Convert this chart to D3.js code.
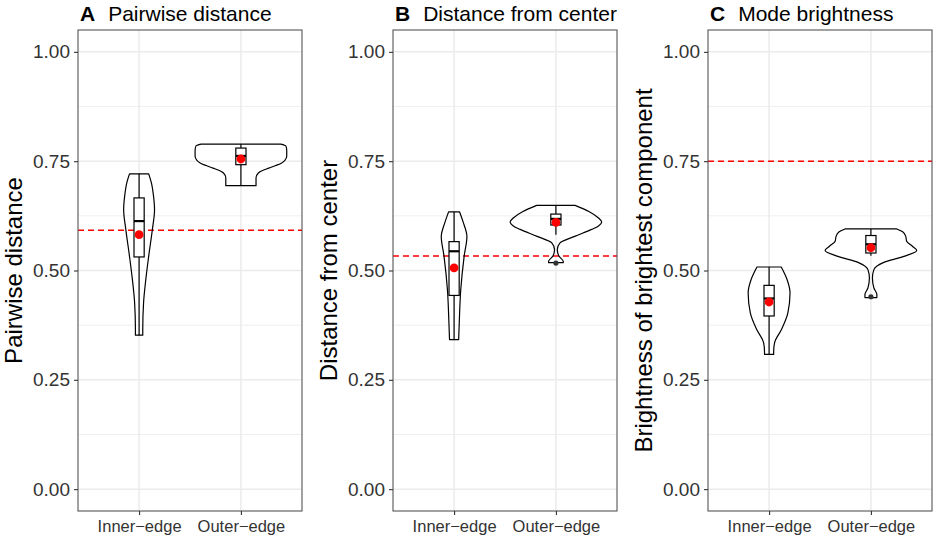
<!DOCTYPE html>
<html>
<head>
<meta charset="utf-8">
<script src="https://cdn.jsdelivr.net/npm/d3@7"></script>
<style>
  body { margin: 0; background: #fff; }
  text { font-family: "Liberation Sans", Arial, sans-serif; }
</style>
</head>
<body>
<div id="chart"></div>
<script>
const categories = ["Inner\u2212edge", "Outer\u2212edge"]
const panelTags = ["A", "B", "C"]
const panelTitles = ["Pairwise distance", "Distance from center", "Mode brightness"]
const yTitles = ["Pairwise distance", "Distance from center", "Brightness of brightest component"]
const yTicks = [0, 0.25, 0.5, 0.75, 1]
const yMinor = [0.125, 0.375, 0.625, 0.875]
const refLines = [0.592, 0.533, 0.75]

// violin outlines: [value, relative density]
const violinA = [
  [[0.721, 0.21], [0.70, 0.27], [0.67, 0.315], [0.639, 0.337], [0.594, 0.29], [0.533, 0.21],
   [0.479, 0.146], [0.427, 0.098], [0.365, 0.08], [0.352, 0.08]],
  [[0.789, 0.87], [0.785, 0.98], [0.775, 1.0], [0.761, 1.0], [0.752, 0.96], [0.746, 0.89],
   [0.740, 0.76], [0.734, 0.61], [0.728, 0.46], [0.723, 0.38], [0.712, 0.33], [0.694, 0.33]]
]
const violinB = [
  [[0.634, 0.12], [0.61, 0.2], [0.578, 0.28], [0.533, 0.22], [0.457, 0.146], [0.381, 0.113],
   [0.342, 0.1]],
  [[0.649, 0.42], [0.635, 0.72], [0.62, 0.93], [0.611, 1.0], [0.602, 0.93], [0.594, 0.78],
   [0.578, 0.41], [0.563, 0.09], [0.548, 0.03], [0.533, 0.065], [0.521, 0.16], [0.518, 0.16]]
]
const violinC = [
  [[0.508, 0.265], [0.48, 0.39], [0.449, 0.457], [0.403, 0.41], [0.365, 0.27], [0.335, 0.12],
   [0.315, 0.1], [0.308, 0.1]],
  [[0.595, 0.565], [0.588, 0.7], [0.578, 0.76], [0.567, 0.78], [0.555, 0.91], [0.546, 1.0],
   [0.533, 0.74], [0.518, 0.27], [0.502, 0.065], [0.483, 0.033], [0.460, 0.065], [0.445, 0.13],
   [0.438, 0.13]]
]

// box stats: [low, q1, median, q3, high, mean]
const boxA = [[0.352, 0.531, 0.613, 0.666, 0.721, 0.582], [0.694, 0.742, 0.762, 0.780, 0.789, 0.755]]
const boxB = [[0.342, 0.443, 0.544, 0.566, 0.634, 0.506], [0.582, 0.604, 0.618, 0.629, 0.649, 0.610]]
const boxC = [[0.308, 0.396, 0.436, 0.466, 0.508, 0.428], [0.534, 0.540, 0.560, 0.580, 0.595, 0.552]]
const outliers = [[[], []], [[], [0.517]], [[], [0.440]]]

const violins = [violinA, violinB, violinC]
const boxes = [boxA, boxB, boxC]

const width = 935, height = 537
const panelLeft = [78, 393, 708], panelW = 224
const plotTop = 30, plotBottom = 511

const svg = d3.select("#chart").append("svg")
  .attr("width", width).attr("height", height)

const y = d3.scaleLinear().domain([-0.05, 1.05]).range([plotBottom, plotTop])

panelTags.forEach((tag, p) => {
  const x0 = panelLeft[p]
  // discrete x: categories at 1, 2 with 0.6 expansion
  const x = d3.scaleLinear().domain([0.4, 2.6]).range([x0, x0 + panelW])
  const unit = x(1) - x(0)
  const g = svg.append("g")

  // grid
  g.selectAll(".minor").data(yMinor).join("line")
    .attr("x1", x0).attr("x2", x0 + panelW)
    .attr("y1", d => y(d)).attr("y2", d => y(d))
    .attr("stroke", "#ebebeb").attr("stroke-width", 0.8)
  g.selectAll(".major").data(yTicks).join("line")
    .attr("x1", x0).attr("x2", x0 + panelW)
    .attr("y1", d => y(d)).attr("y2", d => y(d))
    .attr("stroke", "#ebebeb").attr("stroke-width", 1.5)
  g.selectAll(".xg").data(categories).join("line")
    .attr("x1", (d, i) => x(i + 1)).attr("x2", (d, i) => x(i + 1))
    .attr("y1", plotTop).attr("y2", plotBottom)
    .attr("stroke", "#ebebeb").attr("stroke-width", 1.5)

  // reference line
  g.append("line")
    .attr("x1", x0).attr("x2", x0 + panelW)
    .attr("y1", y(refLines[p])).attr("y2", y(refLines[p]))
    .attr("stroke", "#ff0000").attr("stroke-width", 1.5)
    .attr("stroke-dasharray", "6,4")

  // violins
  violins[p].forEach((pts, i) => {
    const cx = x(i + 1)
    const half = 0.45 * unit
    const area = d3.area()
      .curve(d3.curveMonotoneY)
      .y(d => y(d[0]))
      .x0(d => cx - d[1] * half)
      .x1(d => cx + d[1] * half)
    const pts2 = pts.slice().sort((a, b) => a[0] - b[0])
    g.append("path")
      .attr("d", area(pts2))
      .attr("fill", "none")
      .attr("stroke", "#000").attr("stroke-width", 1.2)
      .attr("stroke-linejoin", "round")
  })

  // boxplots
  boxes[p].forEach((b, i) => {
    const cx = x(i + 1)
    const bw = 0.05 * unit
    const [lo, q1, med, q3, hi, mean] = b
    g.append("line").attr("x1", cx).attr("x2", cx)
      .attr("y1", y(hi)).attr("y2", y(q3)).attr("stroke", "#000").attr("stroke-width", 1.2)
    g.append("line").attr("x1", cx).attr("x2", cx)
      .attr("y1", y(q1)).attr("y2", y(lo)).attr("stroke", "#000").attr("stroke-width", 1.2)
    g.append("rect")
      .attr("x", cx - bw).attr("width", 2 * bw)
      .attr("y", y(q3)).attr("height", y(q1) - y(q3))
      .attr("fill", "#fff").attr("stroke", "#000").attr("stroke-width", 1.2)
    g.append("line").attr("x1", cx - bw).attr("x2", cx + bw)
      .attr("y1", y(med)).attr("y2", y(med)).attr("stroke", "#000").attr("stroke-width", 2.2)
    outliers[p][i].forEach(o => {
      g.append("circle").attr("cx", cx).attr("cy", y(o)).attr("r", 2.6).attr("fill", "#333")
    })
    g.append("circle").attr("cx", cx).attr("cy", y(mean)).attr("r", 4.4).attr("fill", "#ff0000")
  })

  // border
  g.append("rect")
    .attr("x", x0).attr("y", plotTop).attr("width", panelW).attr("height", plotBottom - plotTop)
    .attr("fill", "none").attr("stroke", "#555").attr("stroke-width", 1.1)

  // axes
  const yAxis = g.append("g")
    .attr("transform", `translate(${x0},0)`)
    .call(d3.axisLeft(y).tickValues(yTicks).tickFormat(d3.format(".2f")).tickSize(4).tickPadding(4))
  yAxis.select(".domain").remove()
  yAxis.selectAll(".tick line").attr("stroke", "#333").attr("stroke-width", 1.1)
  yAxis.selectAll(".tick text").attr("font-size", 19).attr("fill", "#333")
    .attr("font-family", "Liberation Sans, Arial, sans-serif")

  const xAxis = g.append("g")
    .attr("transform", `translate(0,${plotBottom})`)
    .call(d3.axisBottom(x).tickValues([1, 2]).tickFormat(d => categories[d - 1]).tickSize(4).tickPadding(5))
  xAxis.select(".domain").remove()
  xAxis.selectAll(".tick line").attr("stroke", "#333").attr("stroke-width", 1.1)
  xAxis.selectAll(".tick text").attr("font-size", 16.5).attr("fill", "#333")
    .attr("font-family", "Liberation Sans, Arial, sans-serif")

  // titles
  const t = g.append("text")
    .attr("x", x0 + 2).attr("y", 21)
    .attr("font-size", 21).attr("fill", "#000")
  t.append("tspan").attr("font-weight", "bold").text(tag)
  t.append("tspan").attr("dx", 13).text(panelTitles[p])

  g.append("text")
    .attr("transform", `translate(${x0 - 56},${(plotTop + plotBottom) / 2}) rotate(-90)`)
    .attr("text-anchor", "middle")
    .attr("font-size", 24).attr("fill", "#000")
    .text(yTitles[p])
})
</script>
</body>
</html>
